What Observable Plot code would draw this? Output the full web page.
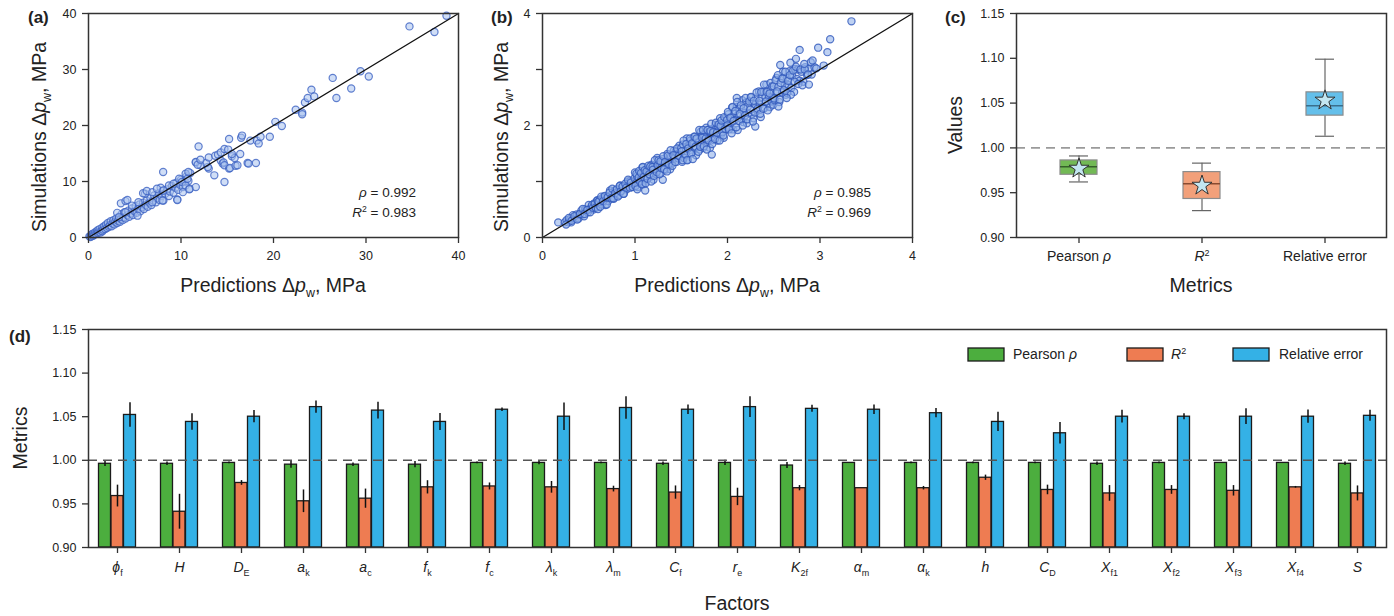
<!DOCTYPE html>
<html>
<head>
<meta charset="utf-8">
<script src="https://cdn.jsdelivr.net/npm/d3@7"></script>
<script src="https://cdn.jsdelivr.net/npm/@observablehq/plot@0.6"></script>
<style>
  body { margin: 0; background: #fff; }
  #page { position: relative; width: 1394px; height: 616px; overflow: hidden; font-family: "Liberation Sans", Arial, sans-serif; }
  .panel { position: absolute; }
  .panel svg { display: block; }
</style>
</head>
<body>
<div id="page">
  <div class="panel" id="panel-a" style="left:0;top:0"></div>
  <div class="panel" id="panel-b" style="left:470px;top:0"></div>
  <div class="panel" id="panel-c" style="left:930px;top:0"></div>
  <div class="panel" id="panel-d" style="left:0;top:300px"></div>
</div>
<script>
// ---------- (a) predictions vs simulations, full test set [pred, sim] (MPa) ----------
const pointsA = [
  [0.1,0.2],[0.2,0.1],[0.3,0.4],[0.3,0.2],[0.4,0.6],[0.5,0.3],[0.5,0.7],[0.6,0.5],[0.7,0.9],[0.8,0.6],
  [0.9,1.1],[1.0,0.8],[1.0,1.3],[1.1,1.0],[1.2,1.5],[1.3,0.9],[1.4,1.2],[1.5,1.8],[1.5,1.1],[1.6,1.4],
  [1.7,2.0],[1.8,1.5],[1.9,2.3],[2.0,1.7],[2.1,2.6],[2.2,1.9],[2.3,2.2],[2.4,2.9],[2.5,2.0],[2.6,2.5],
  [2.7,3.1],[2.8,2.3],[2.9,2.8],[3.0,3.4],[3.1,2.6],[3.2,3.0],[3.3,3.7],[3.4,2.8],[3.5,3.3],[3.6,4.2],
  [3.7,3.1],[3.8,3.6],[3.9,4.5],[4.0,3.4],[4.2,4.0],[4.3,4.8],[4.4,3.7],[4.6,4.3],[4.7,5.2],[4.8,4.0],
  [5.0,4.7],[5.1,5.6],[5.2,4.4],[5.4,5.1],[5.5,5.9],[5.6,4.7],[5.8,5.4],[5.9,6.2],[6.0,5.1],[6.2,5.8],
  [6.3,6.6],[6.4,5.5],[6.6,6.2],[6.7,7.0],[6.8,5.8],[7.0,6.6],[7.1,7.5],[7.3,6.3],[7.4,7.0],[7.6,7.9],
  [7.7,6.7],[7.9,7.4],[8.0,8.3],[8.1,6.6],[8.3,7.8],[8.5,8.6],[8.7,7.4],[8.8,8.2],[9.0,9.2],[9.2,8.0],
  [9.4,8.9],[9.5,9.8],[9.7,8.5],[9.9,9.4],[10.0,10.3],[10.2,9.0],[10.4,10.0],[10.6,10.9],[10.8,10.1],[11.0,11.5],
  [3.5,6.1],[4.0,6.5],[4.2,6.7],[3.1,4.4],[5.3,3.9],[6.1,7.8],[7.8,8.9],[3.3,3.6],[4.0,4.5],[4.7,5.7],
  [5.4,6.3],[5.9,7.9],[6.3,8.3],[6.9,8.1],[6.9,6.3],[7.4,8.7],[8.0,6.6],[8.1,8.4],[8.7,9.3],[9.2,9.6],
  [9.8,10.5],[10.1,9.9],[10.5,9.3],[10.5,11.4],[10.8,11.7],[10.95,8.7],[8.07,11.7],[9.6,6.8],[9.6,6.7],
  [10.2,8.1],[10.9,8.6],[11.6,9.0],[10.7,10.5],[13.6,11.1],[14.7,9.9],[13.0,12.3],[12.9,12.6],[12.7,13.3],
  [11.6,13.4],[12.1,12.9],[11.6,13.5],[11.8,13.0],[12.1,13.9],[11.9,16.25],[13.0,14.3],[13.7,14.6],[14.0,14.8],
  [14.3,15.2],[14.3,13.75],[14.5,13.2],[14.6,13.4],[14.7,12.9],[15.2,12.3],[15.3,12.4],[15.9,12.8],[16.1,12.9],
  [14.7,15.8],[15.1,15.7],[15.5,14.5],[15.8,14.2],[15.5,14.9],[16.4,14.9],[15.2,17.6],[16.5,17.8],[16.6,18.2],
  [17.2,13.3],[17.3,13.2],[18.1,13.3],[17.5,17.3],[18.2,17.3],[18.4,16.8],[18.6,18.0],[19.6,18.0],[20.2,20.65],
  [20.9,19.9],[22.4,22.8],[23.1,22.3],[23.1,22.0],[23.4,24.1],[23.7,24.9],[24.1,26.4],[24.4,25.2],[26.4,28.5],
  [26.8,24.9],[28.4,26.6],[29.4,29.7],[30.3,28.75],[34.7,37.7],[37.4,36.7],[38.7,39.6]
];

// ---------- (b) predictions vs simulations, validation set [pred, sim] (MPa) ----------
const pointsB = [
  [0.17,0.27],[0.24,0.27],[0.26,0.31],[0.28,0.27],[0.30,0.33],[0.31,0.27],[0.33,0.40],[0.34,0.34],[0.36,0.34],[0.37,0.41],
  [0.39,0.34],[0.40,0.41],[0.42,0.48],[0.43,0.41],[0.45,0.38],[0.46,0.50],[0.47,0.48],[0.49,0.45],[0.50,0.58],[0.52,0.51],
  [0.53,0.55],[0.55,0.50],[0.56,0.61],[0.58,0.55],[0.59,0.66],
  [0.255,0.23],[0.285,0.35],[0.315,0.30],[0.345,0.38],[0.375,0.32],[0.405,0.42],[0.435,0.51],[0.455,0.42],[0.485,0.49],
  [0.515,0.45],[0.535,0.58],[0.545,0.53],[0.565,0.60],[0.575,0.53],[0.595,0.66],
  [0.60,0.51],[0.61,0.63],[0.62,0.68],[0.64,0.59],[0.65,0.64],[0.66,0.73],[0.68,0.58],[0.69,0.73],[0.70,0.70],[0.71,0.65],
  [0.73,0.84],[0.74,0.72],[0.75,0.77],[0.77,0.69],[0.78,0.83],[0.79,0.85],[0.80,0.77],[0.82,0.83],[0.83,0.76],[0.84,0.93],
  [0.86,0.84],[0.87,0.91],[0.88,0.78],[0.89,0.92],[0.91,0.86],[0.92,1.00],[0.93,0.92],[0.95,1.01],[0.96,0.90],[0.97,0.99],
  [0.98,0.94],
  [0.605,0.64],[0.625,0.55],[0.635,0.73],[0.655,0.65],[0.675,0.74],[0.695,0.59],[0.705,0.72],[0.725,0.80],[0.745,0.70],
  [0.755,0.87],[0.765,0.70],[0.785,0.79],[0.805,0.86],[0.815,0.73],[0.835,0.92],[0.845,0.82],[0.865,0.91],[0.875,0.78],
  [0.895,0.96],[0.905,0.89],[0.925,1.03],[0.945,0.89],[0.955,0.98],[0.975,0.90],[0.995,1.06],
  [1.00,1.16],[1.01,0.97],[1.02,1.10],[1.03,0.90],[1.05,1.17],[1.06,0.97],[1.07,1.07],[1.08,1.25],[1.09,0.95],[1.10,1.15],
  [1.12,1.09],[1.13,1.23],[1.14,1.06],[1.15,1.19],[1.16,1.20],[1.17,1.09],[1.18,1.30],[1.20,1.03],[1.21,1.28],[1.22,1.22],
  [1.23,1.13],[1.24,1.42],[1.25,1.21],[1.27,1.31],[1.28,1.15],[1.29,1.37],[1.30,1.40],[1.31,1.26],[1.32,1.33],[1.33,1.21],
  [1.35,1.49],[1.36,1.33],[1.37,1.44],[1.38,1.22],[1.39,1.44],[1.40,1.32],[1.42,1.55],[1.43,1.42],[1.44,1.53],[1.45,1.35],
  [1.46,1.49],[1.47,1.41],[1.48,1.64],[1.49,1.45],[1.11,0.84],[1.30,1.03],
  [1.005,0.92],[1.015,1.14],[1.025,0.86],[1.04,1.07],[1.045,1.19],[1.055,1.00],[1.065,1.15],[1.075,0.95],[1.085,1.26],
  [1.095,1.08],[1.105,1.20],[1.115,0.97],[1.125,1.18],[1.135,1.05],[1.145,1.28],[1.155,1.13],[1.165,1.27],[1.175,1.00],
  [1.19,1.26],[1.195,1.21],[1.205,1.10],[1.215,1.38],[1.235,1.17],[1.245,1.29],[1.255,1.38],[1.265,1.13],[1.275,1.36],
  [1.285,1.24],[1.305,1.45],[1.315,1.22],[1.325,1.35],[1.345,1.18],[1.355,1.46],[1.365,1.31],[1.385,1.56],[1.405,1.28],
  [1.415,1.47],[1.435,1.35],[1.455,1.59],[1.475,1.46],
  [1.50,1.60],[1.51,1.35],[1.52,1.66],[1.53,1.42],[1.55,1.55],[1.56,1.77],[1.57,1.39],[1.58,1.64],[1.59,1.56],[1.60,1.73],
  [1.62,1.52],[1.63,1.68],[1.64,1.80],[1.65,1.59],[1.66,1.47],[1.67,1.75],[1.68,1.70],[1.70,1.57],[1.71,1.89],[1.72,1.69],
  [1.73,1.84],[1.74,1.60],[1.75,1.80],[1.77,1.96],[1.78,1.70],[1.79,1.77],[1.80,1.93],[1.81,1.60],[1.82,1.88],[1.84,1.94],
  [1.85,1.74],[1.86,1.89],[1.87,2.01],[1.88,1.83],[1.89,1.73],[1.90,1.98],[1.92,2.13],[1.93,1.83],[1.94,1.94],[1.95,2.06],
  [1.96,1.78],[1.97,2.02],[1.98,2.14],[1.99,1.93],[1.83,1.48],
  [1.505,1.54],[1.515,1.38],[1.525,1.73],[1.545,1.48],[1.555,1.67],[1.565,1.38],[1.575,1.59],[1.595,1.77],[1.605,1.50],
  [1.615,1.68],[1.625,1.40],[1.645,1.80],[1.655,1.62],[1.665,1.77],[1.685,1.53],[1.695,1.92],[1.705,1.62],[1.725,1.78],
  [1.735,1.92],[1.745,1.63],[1.765,1.77],[1.775,1.57],[1.785,1.92],[1.795,1.74],[1.815,1.90],[1.825,2.03],[1.835,1.67],
  [1.845,1.88],[1.865,1.76],[1.875,2.05],[1.885,1.87],[1.905,2.02],[1.915,1.73],[1.925,1.99],[1.935,2.09],[1.945,1.88],
  [1.955,1.82],[1.965,2.15],[1.975,1.94],[1.995,2.10],
  [2.00,2.00],[2.01,2.20],[2.02,1.95],[2.04,2.14],[2.05,2.32],[2.06,1.93],[2.07,2.21],[2.08,2.10],[2.10,2.33],[2.11,1.92],
  [2.12,2.20],[2.13,2.30],[2.15,2.11],[2.16,2.45],[2.17,2.06],[2.18,2.22],[2.20,2.41],[2.21,2.04],[2.22,2.34],[2.23,2.21],
  [2.25,2.50],[2.26,2.19],[2.27,2.42],[2.28,2.13],[2.30,2.38],[2.31,2.50],[2.32,2.27],[2.34,2.61],[2.35,2.37],[2.36,2.15],
  [2.37,2.51],[2.39,2.60],[2.40,2.31],[2.41,2.51],[2.42,2.73],[2.44,2.40],[2.45,2.51],[2.46,2.33],[2.47,2.64],[2.49,2.49],
  [2.30,1.98],[2.10,2.49],
  [2.005,2.24],[2.015,1.93],[2.03,2.14],[2.045,1.86],[2.055,2.33],[2.065,2.08],[2.085,2.26],[2.095,1.97],[2.105,2.42],
  [2.125,2.08],[2.135,2.21],[2.145,2.36],[2.165,2.00],[2.175,2.31],[2.19,2.18],[2.195,2.49],[2.215,2.11],[2.235,2.43],
  [2.245,2.28],[2.255,2.51],[2.275,2.07],[2.285,2.44],[2.295,2.23],[2.315,2.59],[2.325,2.30],[2.345,2.44],[2.355,2.21],
  [2.365,2.60],[2.385,2.30],[2.395,2.73],[2.415,2.43],[2.425,2.60],[2.435,2.27],[2.455,2.57],[2.465,2.76],[2.475,2.43],
  [2.485,2.70],[2.495,2.37],
  [2.50,2.70],[2.51,2.45],[2.53,2.85],[2.54,2.58],[2.55,2.69],[2.56,2.42],[2.58,2.84],[2.59,2.59],[2.60,2.96],[2.62,2.72],
  [2.63,2.55],[2.64,2.86],[2.66,2.72],[2.67,2.97],[2.69,2.67],[2.70,2.88],[2.72,2.60],[2.73,3.01],[2.75,2.83],[2.76,3.00],
  [2.78,2.80],[2.80,2.96],[2.82,2.78],[2.84,3.04],[2.86,2.90],[2.88,3.02],[2.91,2.91],[2.94,3.04],
  [2.505,2.48],[2.52,2.81],[2.535,2.61],[2.545,2.90],[2.565,2.46],[2.575,2.76],[2.595,2.84],[2.61,2.63],[2.625,2.96],
  [2.645,2.58],[2.655,2.80],[2.675,2.90],[2.685,2.55],[2.71,2.98],[2.725,2.78],[2.74,3.05],[2.765,2.74],[2.79,3.00],
  [2.81,2.72],[2.835,3.00],[2.87,2.91],[2.90,3.13],
  [3.34,3.86],[3.11,3.54],[2.98,3.39],[3.08,3.31],[2.78,3.35],[2.74,3.19],[2.92,3.16],[3.04,3.07],[2.57,3.08],[2.88,2.73],
  [2.64,2.49],[2.55,2.34],[2.96,3.02],[2.83,3.10],[2.68,3.12]
];
const rangeA = [0, 40];
const ticksA = [0, 10, 20, 30, 40];
const rangeB = [0, 4];
const ticksB = [0, 1, 2, 3, 4];
const statsA = {rho: "0.992", r2: "0.983"};
const statsB = {rho: "0.985", r2: "0.969"};

// ---------- (c) distribution of metrics ----------
const metricLabels = ["Pearson ρ", "R²", "Relative error"];
const whiskerLow  = [0.962, 0.930, 1.013];
const quartile1   = [0.970, 0.943, 1.036];
const medians     = [0.979, 0.960, 1.047];
const quartile3   = [0.986, 0.973, 1.062];
const whiskerHigh = [0.991, 0.983, 1.099];
const means       = [0.977, 0.958, 1.053];
const valueTicks  = [0.90, 0.95, 1.00, 1.05, 1.10, 1.15];

// ---------- (d) metrics per perturbed factor ----------
const factorSymbols = ["ϕ","H","D","a","a","f","f","λ","λ","C","r","K","α","α","h","C","X","X","X","X","S"];
const factorSubs    = ["f","","E","k","c","k","c","k","m","f","e","2f","m","k","","D","f1","f2","f3","f4",""];
const pearson    = [0.996,0.996,0.997,0.995,0.995,0.995,0.997,0.997,0.997,0.996,0.997,0.994,0.997,0.997,0.997,0.997,0.996,0.997,0.997,0.997,0.996];
const pearsonErr = [0.003,0.002,0.001,0.004,0.002,0.0035,0.001,0.002,0.001,0.002,0.003,0.0035,0,0.001,0.001,0.001,0.002,0.001,0,0,0.002];
const rSquared    = [0.959,0.941,0.974,0.953,0.956,0.969,0.970,0.969,0.967,0.963,0.958,0.968,0.968,0.968,0.980,0.966,0.962,0.966,0.965,0.969,0.962];
const rSquaredErr = [0.0125,0.020,0.0027,0.013,0.011,0.0076,0.004,0.0067,0.0033,0.0076,0.010,0.003,0,0.002,0.003,0.0055,0.009,0.005,0.006,0.001,0.0086];
const relError    = [1.052,1.044,1.050,1.061,1.057,1.044,1.058,1.050,1.060,1.058,1.061,1.059,1.058,1.054,1.044,1.031,1.050,1.050,1.050,1.050,1.051];
const relErrorErr = [0.014,0.0094,0.007,0.007,0.0097,0.0097,0.002,0.0157,0.013,0.0054,0.012,0.004,0.0055,0.0053,0.011,0.0124,0.0073,0.0034,0.009,0.0076,0.0063];
const metricsDomain = [0.90, 1.15];

// ---------- styling ----------
const FONT = '"Liberation Sans", Arial, sans-serif';
const INK = "#222";
const AXIS = "#333";
const TITLE = 19.5;
const barColors = ["#4cae3e", "#ee7c52", "#34b1e6"];
const boxFills = ["#72b955", "#f2a07a", "#64bfea"];
const medianStrokes = ["#35602a", "#8a4a30", "#3a6f8c"];
const dotStyleA = {r: 3.6, fill: "#a9c2ef", fillOpacity: 0.55, stroke: "#3d63c3", strokeOpacity: 0.8, strokeWidth: 1.2};
const dotStyleB = {r: 3.6, fill: "#92b3ea", fillOpacity: 0.6, stroke: "#2f58bc", strokeOpacity: 0.8, strokeWidth: 1.2};
const baseStyle = {fontFamily: FONT, fontSize: "12.5px", color: INK, background: "transparent", overflow: "visible"};

// Rich text: italics, subscripts and superscripts via tspans.
function appendParts(sel, parts, fs) {
  let shift = 0;
  for (const p of parts) {
    const ts = sel.append("tspan").text(p.t);
    if (p.i) ts.attr("font-style", "italic");
    const target = p.sub ? fs * 0.28 : p.sup ? -fs * 0.38 : 0;
    if (target !== shift) ts.attr("dy", target - shift);
    shift = target;
    if (p.sub || p.sup) ts.attr("font-size", fs * 0.64);
  }
}
function addText(svg, {x, y, parts, size, anchor = "middle", rotate = false, weight = null}) {
  const t = d3.select(svg).append("text")
    .attr("font-family", FONT).attr("font-size", size)
    .attr("text-anchor", anchor).attr("fill", INK);
  if (rotate) t.attr("transform", `translate(${x},${y}) rotate(-90)`);
  else t.attr("x", x).attr("y", y);
  if (weight) t.attr("font-weight", weight);
  appendParts(t, parts, size);
  return t;
}
function richTickLabels(svg, axis, partsOf, fs) {
  d3.select(svg).selectAll(`g[aria-label="${axis}-axis tick label"] text`).each(function () {
    const parts = partsOf(this.textContent);
    if (!parts) return;
    const t = d3.select(this);
    t.text(null).attr("font-size", fs);
    appendParts(t, parts, fs);
  });
}
const pressureLabel = (axisName) => [{t: axisName + " Δ"}, {t: "p", i: true}, {t: "w", sub: true}, {t: ", MPa"}];
const metricParts = (s) =>
  s === "Pearson ρ" ? [{t: "Pearson "}, {t: "ρ", i: true}] :
  s === "R²" ? [{t: "R", i: true}, {t: "2", sup: true}] : [{t: s}];

// ---------- scatter panels ----------
function scatterPanel({points, range, ticks, yTickFormat, dotStyle, width, marginLeft, marginRight}) {
  return Plot.plot({
    width, height: 300, marginLeft, marginRight, marginTop: 13, marginBottom: 63,
    style: baseStyle,
    x: {domain: range},
    y: {domain: range},
    marks: [
      Plot.dot(points, {x: d => d[0], y: d => d[1], ...dotStyle}),
      Plot.line(range, {x: d => d, y: d => d, stroke: "#111", strokeWidth: 1.3}),
      Plot.frame({stroke: AXIS, strokeWidth: 1.5}),
      Plot.axisX({ticks, tickSize: 6, tickPadding: 8, label: null, tickFormat: d => d, stroke: AXIS, strokeWidth: 1.3}),
      Plot.axisY({ticks, tickSize: 6, tickPadding: 6, label: null, tickFormat: yTickFormat, stroke: AXIS, strokeWidth: 1.3})
    ]
  });
}
function decorateScatter(svg, {tag, tagX, yTitleX, xTitleX, statX, stats}) {
  addText(svg, {x: tagX, y: 23, parts: [{t: tag}], size: 17, anchor: "start", weight: "bold"});
  addText(svg, {x: yTitleX, y: 137, parts: pressureLabel("Simulations"), size: TITLE, rotate: true});
  addText(svg, {x: xTitleX, y: 292, parts: pressureLabel("Predictions"), size: TITLE});
  addText(svg, {x: statX, y: 197, parts: [{t: "ρ", i: true}, {t: " = " + stats.rho}], size: 13.5, anchor: "end"});
  addText(svg, {x: statX, y: 217, parts: [{t: "R", i: true}, {t: "2", sup: true}, {t: " = " + stats.r2}], size: 13.5, anchor: "end"});
}

const svgA = scatterPanel({points: pointsA, range: rangeA, ticks: ticksA, yTickFormat: d => d, dotStyle: dotStyleA, width: 470, marginLeft: 88, marginRight: 12});
decorateScatter(svgA, {tag: "(a)", tagX: 28, yTitleX: 46, xTitleX: 273, statX: 416, stats: statsA});
document.getElementById("panel-a").append(svgA);

const svgB = scatterPanel({points: pointsB, range: rangeB, ticks: ticksB, yTickFormat: d => (d % 2 === 0 ? d : ""), dotStyle: dotStyleB, width: 460, marginLeft: 72, marginRight: 18});
decorateScatter(svgB, {tag: "(b)", tagX: 21, yTitleX: 38, xTitleX: 257, statX: 401, stats: statsB});
document.getElementById("panel-b").append(svgB);

// ---------- (c) box plots ----------
const boxRows = metricLabels.map((metric, i) => ({
  metric, lo: whiskerLow[i], q1: quartile1[i], med: medians[i], q3: quartile3[i], hi: whiskerHigh[i], mean: means[i]
}));
const svgC = Plot.plot({
  width: 464, height: 300, marginLeft: 86, marginRight: 8, marginTop: 13, marginBottom: 63,
  style: baseStyle,
  x: {type: "band", domain: metricLabels, padding: 0},
  y: {domain: metricsDomain},
  marks: [
    Plot.ruleY([1], {stroke: "#9a9a9a", strokeDasharray: "9,6", strokeWidth: 1.6}),
    Plot.ruleX(boxRows, {x: "metric", y1: "lo", y2: "hi", stroke: "#666", strokeWidth: 1.2}),
    Plot.tickY(boxRows, {x: "metric", y: "lo", insetLeft: 52, insetRight: 52, stroke: "#666", strokeWidth: 1.2}),
    Plot.tickY(boxRows, {x: "metric", y: "hi", insetLeft: 52, insetRight: 52, stroke: "#666", strokeWidth: 1.2}),
    ...boxRows.map((row, i) => Plot.barY([row], {x: "metric", y1: "q1", y2: "q3", fill: boxFills[i], stroke: "#8c8c8c", strokeWidth: 1.2, insetLeft: 43, insetRight: 43})),
    ...boxRows.map((row, i) => Plot.tickY([row], {x: "metric", y: "med", stroke: medianStrokes[i], strokeWidth: 1.6, insetLeft: 43, insetRight: 43})),
    Plot.dot(boxRows, {x: "metric", y: "mean", symbol: "star", r: 6.3, fill: "#c3e6f1", stroke: "#333", strokeWidth: 1}),
    Plot.frame({stroke: AXIS, strokeWidth: 1.5}),
    Plot.axisX({tickSize: 6, tickPadding: 8, label: null, stroke: AXIS, strokeWidth: 1.3}),
    Plot.axisY({ticks: valueTicks, tickSize: 6, tickPadding: 6, tickFormat: d3.format(".2f"), label: null, stroke: AXIS, strokeWidth: 1.3})
  ]
});
richTickLabels(svgC, "x", metricParts, 14);
addText(svgC, {x: 15, y: 23, parts: [{t: "(c)"}], size: 17, anchor: "start", weight: "bold"});
addText(svgC, {x: 32, y: 125, parts: [{t: "Values"}], size: TITLE, rotate: true});
addText(svgC, {x: 271, y: 292, parts: [{t: "Metrics"}], size: TITLE});
document.getElementById("panel-c").append(svgC);

// ---------- (d) grouped bars with error bars ----------
const factorKeys = factorSymbols.map((s, i) => s + "|" + factorSubs[i]);
const factorRows = factorKeys.map((factor, i) => ({
  factor,
  pearson: pearson[i], pearsonErr: pearsonErr[i],
  r2: rSquared[i], r2Err: rSquaredErr[i],
  rel: relError[i], relErr: relErrorErr[i]
}));
const groupOffsets = [-12.5, 0, 12.5];
const series = [["pearson", "pearsonErr"], ["r2", "r2Err"], ["rel", "relErr"]];
const svgD = Plot.plot({
  width: 1394, height: 316, marginLeft: 88, marginRight: 8, marginTop: 29, marginBottom: 69,
  style: baseStyle,
  x: {type: "band", domain: factorKeys, paddingInner: 0.8, paddingOuter: 0.31},
  y: {domain: metricsDomain},
  marks: [
    ...series.map(([v], k) => Plot.barY(factorRows, {
      x: "factor", y1: () => metricsDomain[0], y2: v, dx: groupOffsets[k], inset: 0,
      fill: barColors[k], stroke: "#1b1b1b", strokeWidth: 1.3
    })),
    ...series.map(([v, e], k) => Plot.ruleX(factorRows, {
      x: "factor", y1: d => d[v] - d[e], y2: d => d[v] + d[e], dx: groupOffsets[k],
      stroke: "#111", strokeWidth: 1.5
    })),
    Plot.ruleY([1], {stroke: "#555", strokeDasharray: "9,6", strokeWidth: 1.4}),
    Plot.frame({stroke: AXIS, strokeWidth: 1.5}),
    Plot.axisX({tickSize: 6, tickPadding: 9, label: null, stroke: AXIS, strokeWidth: 1.3}),
    Plot.axisY({ticks: valueTicks, tickSize: 6, tickPadding: 6, tickFormat: d3.format(".2f"), label: null, stroke: AXIS, strokeWidth: 1.3})
  ]
});
richTickLabels(svgD, "x", (key) => {
  const [main, sub] = key.split("|");
  return sub ? [{t: main, i: true}, {t: sub, sub: true}] : [{t: main, i: true}];
}, 14);
addText(svgD, {x: 9, y: 42, parts: [{t: "(d)"}], size: 17, anchor: "start", weight: "bold"});
addText(svgD, {x: 27, y: 138, parts: [{t: "Metrics"}], size: TITLE, rotate: true});
addText(svgD, {x: 737, y: 310, parts: [{t: "Factors"}], size: TITLE});
// legend
const legendItems = [{x: 968, tx: 1013}, {x: 1127, tx: 1171}, {x: 1233, tx: 1279}];
legendItems.forEach((item, k) => {
  d3.select(svgD).append("rect")
    .attr("x", item.x).attr("y", 48).attr("width", 36).attr("height", 13)
    .attr("fill", barColors[k]).attr("stroke", "#1b1b1b").attr("stroke-width", 1.3);
  addText(svgD, {x: item.tx, y: 59, parts: metricParts(metricLabels[k]), size: 14, anchor: "start"});
});
document.getElementById("panel-d").append(svgD);
</script>
</body>
</html>
